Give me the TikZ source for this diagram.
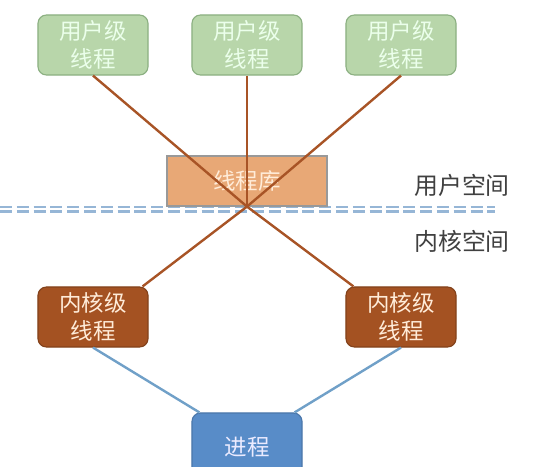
\documentclass[tikz,border=0pt]{standalone}
\usepackage{fontspec}
\setmainfont{Noto Sans CJK SC}
\usetikzlibrary{calc}

\definecolor{userfill}{RGB}{184,214,170}
\definecolor{userdraw}{RGB}{140,176,130}
\definecolor{libfill}{RGB}{232,168,118}
\definecolor{kernfill}{RGB}{164,82,34}
\definecolor{procfill}{RGB}{88,140,200}
\definecolor{linkbrown}{RGB}{168,84,38}
\definecolor{linkblue}{RGB}{112,160,200}
\definecolor{sepblue}{RGB}{150,182,214}

\begin{document}
\begin{tikzpicture}[
    x=0.025cm, y=-0.025cm,
    font=\fontsize{16}{20}\selectfont,
    userbox/.style={draw=userdraw, fill=userfill, rounded corners=6pt, thick, align=center, text=white!92!green, minimum width=2.75cm, minimum height=1.5cm, inner sep=1pt},
    libbox/.style={draw=black!40, fill=libfill, thick, align=center, text=white!85!orange, minimum width=4cm, minimum height=1.25cm},
    kernbox/.style={draw=kernfill!80!black, fill=kernfill, rounded corners=6pt, thick, align=center, text=orange!15, minimum width=2.75cm, minimum height=1.5cm, inner sep=1pt},
    procbox/.style={draw=procfill!85!black, fill=procfill, rounded corners=6pt, thick, align=center, text=white!92!blue, minimum width=2.75cm, minimum height=1.7cm},
    spacelabel/.style={font=\fontsize{17}{20}\selectfont, text=black!75},
    userlink/.style={draw=linkbrown, line width=1.7pt},
    kernlink/.style={draw=linkblue, line width=1.7pt},
    sepline/.style={draw=sepblue, line width=1.8pt, dash pattern=on 0.3cm off 0.12cm}
]
\clip (0,0) rectangle (541,467);
\fill[white] (0,0) rectangle (541,467);

\draw[sepline] (0,207) -- (495,207);
\draw[sepline] (0,211.5) -- (495,211.5);

\node[userbox] (u1) at (93,45) {用户级\\线程};
\node[userbox] (u2) at (247,45) {用户级\\线程};
\node[userbox] (u3) at (401,45) {用户级\\线程};

\node[libbox] (lib) at (247,181) {线程库};

\node[kernbox] (k1) at (93,317) {内核级\\线程};
\node[kernbox] (k2) at (401,317) {内核级\\线程};

\node[procbox] (proc) at (247,447) {进程};

\node[spacelabel] (us) at (462,185) {用户空间};
\node[spacelabel] (ks) at (462,241) {内核空间};

\draw[userlink] (u1.south) -- (lib.south);
\draw[userlink] (u2.south) -- (lib.south);
\draw[userlink] (u3.south) -- (lib.south);
\draw[userlink] (lib.south) -- ($(k1.north east)+(-6,0)$);
\draw[userlink] (lib.south) -- ($(k2.north west)+(8,0)$);

\draw[kernlink] (k1.south) -- ($(proc.north west)+(8,0)$);
\draw[kernlink] (k2.south) -- ($(proc.north east)+(-8,0)$);
\end{tikzpicture}
\end{document}
